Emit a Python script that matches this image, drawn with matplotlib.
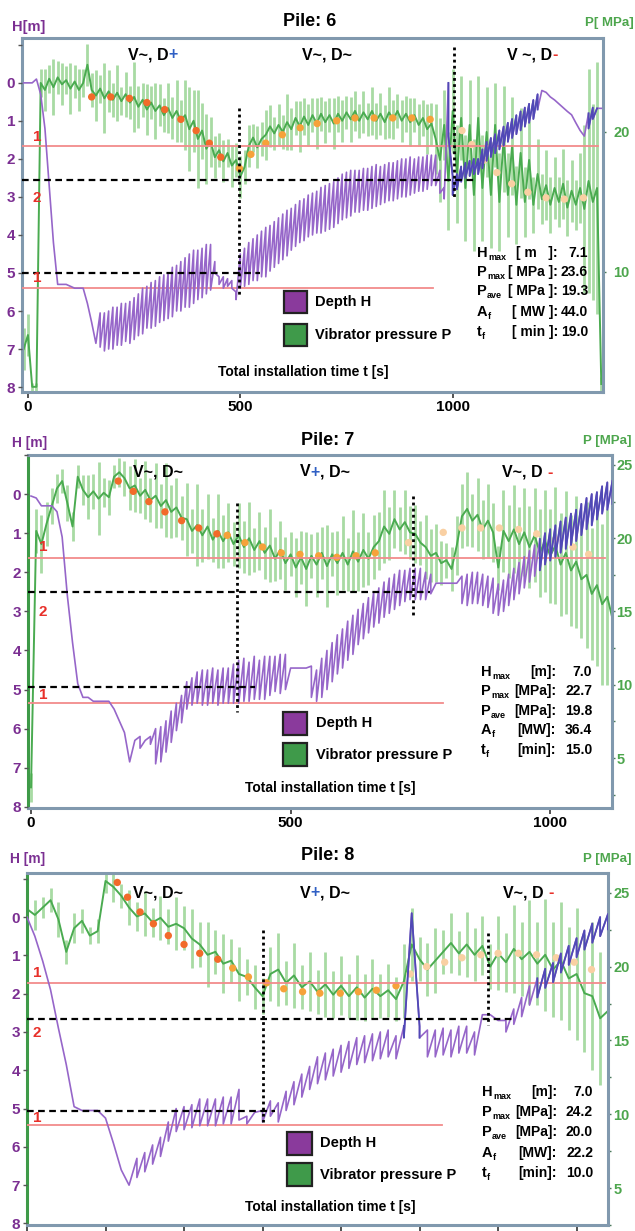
import numpy as np
import matplotlib
matplotlib.use("Agg")
import matplotlib.pyplot as plt
from matplotlib.patches import Rectangle

plt.rcParams['font.family'] = ['Liberation Sans', 'DejaVu Sans']
plt.rcParams['font.weight'] = 'bold'

# ============================ DATA ============================
# ---- Pile 6 (time grid 10 s) ----
t6 = np.arange(-10, 1351, 10)
p6 = [4.5, 5.5, 1.8, 1.8, 23.5, 23.0, 23.8, 23.2, 23.9, 23.4,
      23.7, 23.1, 23.6, 23.0, 23.5, 24.8, 23.0, 22.6, 23.1, 22.4,
      22.9, 22.3, 22.8, 22.2, 22.7, 22.1, 22.5, 21.8, 22.3, 21.6,
      22.1, 21.5, 21.9, 21.2, 21.7, 21.0, 21.5, 20.8, 21.2, 20.2,
      20.8, 19.5, 20.1, 18.8, 19.3, 18.2, 18.7, 17.9, 18.5, 17.6,
      18.0, 16.8, 17.5, 19.0, 19.6, 18.9, 19.5, 19.8, 20.4, 19.9,
      20.5, 20.0, 20.7, 20.2, 21.0, 20.4, 21.1, 20.5, 21.2, 20.6,
      21.3, 20.7, 21.2, 20.6, 21.3, 20.8, 21.4, 20.9, 21.5, 20.8,
      21.4, 20.9, 21.5, 20.8, 21.3, 20.7, 21.4, 20.9, 21.5, 20.8,
      21.3, 20.7, 21.2, 20.5, 21.0, 20.2, 20.6, 19.5, 18.0, 20.5,
      16.5, 21.5, 17.0, 21.0, 16.0, 20.5, 15.5, 21.0, 16.0, 20.0,
      15.5, 20.5, 15.0, 19.5, 15.5, 19.0, 14.8, 18.5, 15.0, 18.0,
      14.8, 17.0, 15.2, 16.2, 14.8, 16.0, 15.0, 16.3, 14.6, 15.8,
      14.8, 16.0, 14.5, 16.5, 15.0, 16.0, 2.0]
sp6 = [1.5, 1.5, 0.3, 0.3, 1.0, 1.5, 1.0, 2.0, 1.2, 1.5,
       1.0, 1.8, 1.2, 1.5, 1.0, 1.5, 1.2, 1.8, 1.0, 2.5,
       1.5, 1.2, 2.0, 1.0, 1.6, 1.2, 2.5, 1.5, 1.2, 1.8,
       1.2, 2.0, 1.5, 1.2, 1.8, 1.5, 2.2, 1.5, 2.5, 3.0,
       2.2, 3.5, 2.0, 2.5, 1.8, 1.5, 1.2, 1.5, 1.0, 1.5,
       1.2, 1.5, 1.2, 1.5, 1.0, 1.5, 1.2, 1.8, 1.5, 1.2,
       1.5, 1.2, 2.0, 1.5, 1.2, 1.8, 1.3, 1.5, 1.2, 1.8,
       1.2, 1.5, 1.2, 1.8, 1.3, 1.5, 1.2, 1.6, 1.4, 1.2,
       1.5, 1.2, 1.7, 1.3, 1.5, 1.2, 1.8, 1.4, 1.2, 1.5,
       1.3, 1.7, 1.2, 1.5, 1.3, 1.8, 1.5, 2.5, 3.0, 2.5,
       3.5, 3.0, 3.5, 3.0, 3.8, 3.2, 4.0, 3.0, 3.8, 3.2,
       3.8, 3.0, 3.5, 3.8, 3.0, 3.5, 2.8, 3.2, 2.5, 2.8,
       2.0, 2.5, 1.8, 2.5, 2.0, 2.2, 1.8, 2.5, 2.0, 2.2,
       1.8, 2.5, 6.0, 8.0, 7.0, 9.0, 0.5]
h6 = [0.0, 0.0, 0.0, -0.1, 0.3, 1.2, 2.7, 4.2, 5.3, 5.3,
      5.3, 5.35, 5.4, 5.4, 5.4, 5.8, 6.3, 6.85, 6.5, 6.55,
      6.5, 6.45, 6.4, 6.35, 6.3, 6.3, 6.2, 6.1, 6.0, 5.9,
      5.85, 5.8, 5.7, 5.65, 5.6, 5.5, 5.4, 5.35, 5.25, 5.2,
      5.1, 5.05, 5.0, 4.9, 4.85, 4.85, 5.2, 5.25, 5.25, 5.3,
      5.6, 4.95, 4.85, 4.75, 4.65, 4.6, 4.5, 4.45, 4.35, 4.25,
      4.15, 4.05, 3.95, 3.85, 3.75, 3.65, 3.6, 3.5, 3.45, 3.4,
      3.35, 3.3, 3.25, 3.2, 3.1, 3.0, 2.95, 2.9, 2.85, 2.85,
      2.8, 2.8, 2.75, 2.7, 2.7, 2.65, 2.6, 2.6, 2.55, 2.5,
      2.5, 2.45, 2.45, 2.4, 2.4, 2.35, 2.3, 2.3, 2.6, 2.9,
      0.7, 2.7, 2.6, 2.4, 2.3, 2.25, 2.2, 2.2, 2.0, 1.8,
      1.7, 1.6, 1.5, 1.4, 1.3, 1.2, 1.1, 1.0, 0.9, 0.8,
      0.7, 0.5, 0.2, 0.25, 0.37, 0.45, 0.55, 0.65, 0.75, 0.84,
      1.05, 1.25, 1.4, 1.0, 0.8, 0.67, 0.67]
dh6 = [0, 0, 0, 0, 0, 0, 0, 0, 0, 0,
       0, 0, 0, 0, 0, 0, 0, 0, 0.9, 1.0,
       1.0, 1.1, 1.0, 1.1, 1.0, 1.1, 1.1, 1.1, 1.2, 1.1,
       1.2, 1.2, 1.2, 1.2, 1.2, 1.3, 1.2, 1.3, 1.3, 1.4,
       1.4, 1.3, 1.3, 1.3, 1.2, 0.3, 0.2, 0.3, 0.2, 0.2,
       0.2, 0.9, 1.0, 1.1, 1.1, 1.2, 1.2, 1.3, 1.2, 1.2,
       1.2, 1.2, 1.2, 1.1, 1.1, 1.1, 1.1, 1.1, 1.1, 1.1,
       1.2, 1.2, 1.2, 1.2, 1.2, 1.2, 1.2, 1.2, 1.1, 1.1,
       1.1, 1.1, 1.1, 1.1, 1.0, 1.0, 1.0, 1.0, 1.0, 1.0,
       1.0, 1.0, 0.9, 0.9, 0.9, 0.9, 0.8, 0.8, 0.6, 0.3,
       1.4, 0.5, 0.4, 0.4, 0.4, 0.4, 0.4, 0.4, 0.5, 0.5,
       0.5, 0.5, 0.5, 0.5, 0.5, 0.5, 0.5, 0.5, 0.5, 0.5,
       0.5, 0.4, 0, 0, 0, 0, 0, 0, 0, 0,
       0, 0, 0, 0.4, 0.3, 0, 0]
t6d = [150, 195, 239, 280, 322, 360, 396, 427, 454, 498, 525, 560, 599, 641, 681,
       727, 770, 815, 859, 904, 947, 1022, 1045, 1074, 1104, 1139, 1177, 1220, 1263, 1308]
p6d = [22.5, 22.5, 22.4, 22.1, 21.6, 20.9, 20.1, 19.2, 18.2, 17.4, 18.4, 19.2, 19.8, 20.3, 20.6,
       20.8, 21.0, 21.0, 21.0, 21.0, 20.9, 20.1, 19.1, 18.0, 17.1, 16.3, 15.7, 15.3, 15.2, 15.3]
phase6 = [0] * 9 + [1] * 12 + [2] * 9
stats6 = ["7.1", "23.6", "19.3", "44.0", "19.0"]
units6 = ["[ m   ]:", "[ MPa ]:", "[ MPa ]:", "[ MW ]:", "[ min ]:"]
red6, red6_end = [1.65, 5.4], [1342, 954]
dash6, dash6_end = [2.55, 5.0], [1053, 547]
vt6, vspan6 = [497, 1004], [(0.66, 5.6), (-0.95, 3.0)]

# ---- Pile 7 ----
t7 = np.arange(0, 1121, 10)
p7 = [3.0, 20.5, 19.6, 21.0, 22.2, 23.4, 23.9, 22.4, 20.8, 24.2,
      23.3, 22.8, 23.2, 22.7, 23.1, 22.8, 24.2, 24.5, 24.1, 23.4,
      23.6, 22.9, 23.3, 22.6, 22.9, 22.2, 22.6, 21.8, 22.1, 21.4,
      21.3, 20.5, 20.9, 20.2, 20.8, 19.9, 20.5, 19.8, 20.4, 19.6,
      20.2, 19.4, 20.0, 19.2, 19.8, 19.0, 19.5, 18.6, 19.2, 18.3,
      18.9, 18.0, 18.7, 17.9, 18.8, 18.2, 19.0, 18.1, 18.9, 18.3,
      19.0, 18.2, 19.1, 18.4, 19.2, 18.6, 19.4, 19.8, 20.8, 20.3,
      21.3, 20.6, 21.1, 20.4, 20.3, 19.7, 19.4, 18.8, 19.0, 18.3,
      18.5, 17.9, 19.5, 21.5, 22.0, 21.2, 21.6, 20.6, 21.2, 20.4,
      18.0, 20.5, 19.8, 20.6, 19.6, 20.4, 19.4, 20.2, 19.0, 19.8,
      18.8, 19.5, 18.2, 19.0, 17.8, 18.4, 17.2, 17.5, 16.2, 16.8,
      15.5, 16.0, 14.5]
sp7 = [1.0, 1.5, 2.0, 1.5, 1.2, 1.0, 0.8, 1.2, 1.0, 0.8,
       1.0, 1.5, 1.2, 2.5, 1.0, 1.2, 0.8, 1.0, 1.2, 1.5,
       1.8, 1.2, 2.0, 1.5, 2.2, 1.5, 2.5, 1.8, 2.0, 1.5,
       2.5, 1.5, 2.8, 1.8, 2.2, 1.5, 2.5, 1.8, 2.0, 1.5,
       2.2, 1.8, 2.5, 1.5, 2.0, 1.8, 2.5, 1.5, 2.0, 1.8,
       1.5, 2.0, 1.8, 2.5, 1.5, 2.2, 1.8, 2.8, 1.5, 2.2,
       2.5, 1.8, 2.8, 2.0, 2.5, 1.8, 2.2, 2.0, 2.5, 1.8,
       2.0, 1.5, 2.2, 1.8, 2.0, 1.5, 2.2, 1.8, 2.0, 1.5,
       1.2, 1.5, 2.0, 2.2, 2.5, 1.8, 2.5, 2.0, 2.5, 2.0,
       1.5, 2.8, 2.5, 3.0, 2.5, 3.0, 2.8, 3.2, 3.0, 3.5,
       3.2, 4.0, 3.5, 4.2, 3.8, 4.5, 4.0, 5.0, 4.5, 5.5,
       5.5, 6.0, 5.0]
h7 = [0.05, 0.1, 0.3, 0.3, 0.3, 0.45, 1.1, 2.6, 3.8, 4.85,
      5.2, 5.2, 5.3, 5.3, 5.3, 5.3, 5.5, 5.8, 6.1, 6.85,
      6.3, 6.35, 6.3, 6.3, 6.45, 6.4, 6.2, 5.95, 5.7, 5.5,
      5.15, 5.05, 4.95, 4.95, 4.95, 4.9, 4.95, 4.9, 4.9, 4.85,
      4.8, 4.75, 4.8, 4.7, 4.75, 4.7, 4.65, 4.6, 4.6, 4.55,
      4.45, 4.45, 4.45, 4.45, 4.8, 4.9, 4.7, 4.5, 4.3, 4.1,
      3.95, 3.75, 3.6, 3.4, 3.25, 3.1, 2.95, 2.85, 2.7, 2.6,
      2.5, 2.4, 2.35, 2.3, 2.3, 2.3, 2.35, 2.3, 2.28, 2.28,
      2.28, 2.28, 2.28, 2.45, 2.45, 2.4, 2.4, 2.45, 2.5, 2.6,
      2.7, 2.6, 2.45, 2.3, 2.15, 2.0, 1.85, 1.7, 1.55, 1.4,
      1.3, 1.2, 1.1, 1.0, 0.9, 0.8, 0.65, 0.5, 0.4, 0.3,
      0.15, 0.05, -0.05]
dh7 = [0, 0, 0, 0, 0, 0, 0, 0, 0, 0,
       0, 0, 0, 0, 0, 0, 0, 0, 0, 0,
       0, 0.3, 0, 0.2, 0.9, 0.9, 0.8, 0.8, 0.7, 0.7,
       0.7, 0.7, 0.8, 0.9, 0.9, 0.9, 0.9, 0.9, 0.9, 1.0,
       1.1, 1.1, 1.0, 1.1, 1.0, 1.1, 1.0, 0.9, 1.0, 0.9,
       0, 0, 0, 0, 0.8, 0.8, 1.0, 1.0, 1.0, 1.0,
       1.0, 1.0, 1.0, 0.9, 0.9, 0.9, 0.9, 0.9, 0.9, 0.9,
       0.9, 0.9, 0.8, 0.8, 0.8, 0.8, 0.7, 0.5, 0, 0,
       0, 0, 0, 0.7, 0.8, 0.8, 0.8, 0.8, 0.8, 0.9,
       0.8, 0.8, 0.8, 0.8, 0.8, 0.8, 0.8, 0.8, 0.8, 0.8,
       0.8, 0.8, 0.8, 0.8, 0.8, 0.8, 0.8, 0.8, 0.8, 0.7,
       0.7, 0.7, 0.6]
t7d = [168, 197, 227, 258, 290, 323, 358, 378, 412, 446, 482, 518, 554, 589, 626, 663,
       727, 794, 830, 866, 902, 939, 974, 1010, 1044, 1074]
p7d = [23.9, 23.2, 22.5, 21.8, 21.2, 20.7, 20.3, 20.2, 19.7, 19.4, 19.0, 18.9, 18.8, 18.7, 18.8, 19.0,
       19.7, 20.4, 20.7, 20.7, 20.7, 20.6, 20.3, 19.9, 19.4, 18.9]
phase7 = [0] * 7 + [1] * 9 + [2] * 10
stats7 = ["7.0", "22.7", "19.8", "36.4", "15.0"]
units7 = ["[m]:", "[MPa]:", "[MPa]:", "[MW]:", "[min]:"]
red7, red7_end = [1.64, 5.35], [1106, 794]
dash7, dash7_end = [2.5, 4.94], [769, 432]
vt7, vspan7 = [397, 736], [(0.23, 5.58), (0.05, 3.17)]

# ---- Pile 8 ----
t8 = np.arange(0, 741, 10)
p8 = [23.9, 23.5, 24.0, 24.5, 23.2, 21.0, 22.6, 23.1, 22.1, 22.4,
      25.8, 25.4, 24.8, 24.0, 23.4, 23.6, 23.0, 23.3, 22.7, 22.9,
      22.6, 21.9, 21.5, 20.8, 21.0, 20.2, 20.4, 19.5, 19.3, 18.6,
      18.0, 19.5, 19.8, 18.9, 19.4, 18.6, 19.0, 18.3, 18.8, 18.1,
      18.7, 18.0, 18.6, 17.9, 18.5, 18.0, 18.4, 17.8, 19.0, 21.5,
      20.5, 19.8, 20.4, 21.0, 21.6, 20.9, 21.5, 20.8, 21.4, 20.0,
      20.9, 20.3, 21.2, 20.5, 21.0, 20.2, 20.8, 19.8, 20.4, 19.2,
      19.5, 18.2, 18.0, 16.5, 17.0]
sp8 = [0.8, 1.0, 0.7, 0.8, 1.2, 0.8, 1.0, 0.8, 0.6, 0.8,
       0.8, 1.0, 0.8, 1.2, 1.0, 1.5, 1.0, 1.5, 1.2, 1.8,
       1.5, 2.0, 1.5, 2.2, 1.5, 2.0, 1.5, 1.8, 1.2, 1.5,
       1.2, 1.8, 2.5, 1.5, 2.2, 1.5, 2.0, 1.5, 2.2, 1.6,
       2.0, 1.5, 2.2, 1.6, 2.0, 1.5, 1.8, 1.5, 2.5, 2.5,
       1.5, 1.8, 2.2, 1.5, 2.0, 1.5, 2.2, 1.8, 2.0, 1.5,
       2.5, 2.0, 3.0, 2.5, 3.5, 2.8, 3.8, 3.2, 4.0, 3.5,
       4.5, 4.0, 5.0, 4.5, 4.0]
h8 = [0.0, 0.5, 1.15, 1.9, 2.9, 3.85, 4.95, 5.05, 5.05, 5.05,
      5.25, 5.9, 6.6, 7.0, 6.55, 6.4, 6.2, 6.0, 5.6, 5.3,
      5.25, 5.2, 5.1, 5.1, 5.1, 5.05, 5.05, 4.9, 5.3, 5.1,
      5.2, 5.0, 5.1, 4.8, 4.6, 4.4, 4.2, 4.0, 3.9, 3.8,
      3.7, 3.6, 3.5, 3.45, 3.4, 3.35, 3.3, 3.4, 3.0, -0.1,
      3.0, 3.3, 3.3, 3.25, 3.3, 3.2, 3.2, 3.3, 2.55, 2.55,
      2.7, 2.85, 2.6, 2.35, 2.05, 1.85, 1.6, 1.45, 1.2, 1.0,
      0.8, 0.6, 0.42, 0.25, 0.12]
dh8 = [0, 0, 0, 0, 0, 0, 0, 0, 0, 0,
       0, 0, 0, 0, 0.5, 0.5, 0.5, 0.5, 0.5, 0.6,
       0.6, 0.6, 0.7, 0.7, 0.7, 0.7, 0.7, 0.8, 0.2, 0,
       0.3, 0.4, 0.5, 0.5, 0.6, 0.6, 0.6, 0.7, 0.7, 0.7,
       0.7, 0.7, 0.7, 0.7, 0.7, 0.7, 0.7, 0.6, 0.3, 0,
       0.3, 0.7, 0.7, 0.7, 0.7, 0.7, 0.7, 0.6, 0, 0,
       0, 0.3, 0.4, 0.5, 0.5, 0.5, 0.5, 0.5, 0.5, 0.5,
       0.5, 0.5, 0.5, 0.5, 0.4]
t8d = [115, 128, 144, 161, 180, 200, 220, 243, 262, 282, 305, 327, 351, 373, 399, 422, 445, 470,
       488, 509, 532, 554, 578, 600, 626, 649, 674, 697, 719]
p8d = [25.7, 24.7, 23.7, 22.9, 22.1, 21.5, 20.9, 20.5, 19.9, 19.3, 18.9, 18.5, 18.3, 18.2, 18.2, 18.3,
       18.4, 18.7, 19.5, 20.0, 20.3, 20.6, 20.8, 20.9, 20.9, 20.8, 20.6, 20.3, 19.8]
phase8 = [0] * 8 + [1] * 10 + [2] * 11
stats8 = ["7.0", "24.2", "20.0", "22.2", "10.0"]
units8 = ["[m]:", "[MPa]:", "[MPa]:", "[MW]:", "[min]:"]
red8, red8_end = [1.72, 5.43], [736, 529]
dash8, dash8_end = [2.66, 5.06], [618, 316]
vt8, vspan8 = [301, 587], [(0.34, 5.35), (0.42, 2.82)]

# ============================ STYLE ============================
FW, FH = 635, 1231
PURPLE = '#9666c9'
BLUE = '#5049b6'
LGREEN = '#a8dba3'
DGREEN = '#4aab50'
RED = '#f28b8b'
RED_TXT = '#e8302a'
BLUE_TXT = '#2f5fc4'
PURPLE_TXT = '#7b2f92'
GREEN_TXT = '#4da64d'
SPINE = '#8199ae'
DOT_COLS = ['#f26b2a', '#f6a23a', '#f9d0a3']

fig = plt.figure(figsize=(FW / 100, FH / 100), dpi=100)


def ftext(x, y, s, **kw):
    kw.setdefault('va', 'center')
    return fig.text(x / FW, 1 - y / FH, s, **kw)


def build(box, xlim, hlim, plim, pticks, pminor, xticks, xlabels, left_green, ppad):
    l, tp, r, b = box
    axp = fig.add_axes([l / FW, 1 - b / FH, (r - l) / FW, (b - tp) / FH])
    axh = axp.twinx()
    axp.set_xlim(*xlim)
    axp.set_ylim(*plim)
    axh.set_ylim(*hlim)
    axp.yaxis.tick_right()
    axh.yaxis.tick_left()
    axh.set_yticks(np.arange(-1, 9))
    axh.set_yticklabels([''] + [str(i) for i in range(9)])
    axh.tick_params(axis='y', labelsize=11, labelcolor=PURPLE_TXT, color='#555555',
                    length=3, width=1, pad=2)
    axp.set_yticks(pticks)
    axp.set_yticks(pminor, minor=True)
    axp.tick_params(axis='y', which='both', labelsize=10.5, labelcolor=GREEN_TXT,
                    color='#4a7a5a', length=2.5, width=1, pad=ppad)
    axp.set_xticks(xticks)
    axp.set_xticklabels(xlabels)
    axp.tick_params(axis='x', labelsize=11, length=4, width=1.2, color='#333333', pad=2)
    for s in axp.spines.values():
        s.set_color(SPINE)
        s.set_linewidth(2.2)
    if left_green:
        axp.spines['left'].set_color('#3e9a48')
    for s in axh.spines.values():
        s.set_visible(False)
    return axp, axh


def draw(axp, axh, t, p, sp, h, dh, td, pd, phase, blue):
    t = np.asarray(t, float)
    p = np.asarray(p, float)
    sp = np.asarray(sp, float)
    axp.vlines(t, p - sp, p + sp, color=LGREEN, lw=2.0, zorder=1)
    axp.plot(t, p, color=DGREEN, lw=1.4, zorder=2)
    axp.scatter(td, pd, s=28, c=[DOT_COLS[k] for k in phase], zorder=5, linewidths=0)
    h = np.asarray(h, float)
    dh = np.asarray(dh, float)
    x = np.repeat(t, 2)
    y = np.column_stack([h - dh / 2, h + dh / 2]).ravel()
    axh.plot(x, y, color=PURPLE, lw=1.2, zorder=3)
    for a, b_ in blue:
        yb = np.where((x >= a) & (x <= b_), y, np.nan)
        axh.plot(x, yb, color=BLUE, lw=1.3, zorder=4)


def refs(axh, x0, red_lv, red_end, dash_lv, dash_end, vt, vspan):
    for lv, e in zip(red_lv, red_end):
        axh.plot([x0, e], [lv, lv], color=RED, lw=1.3, zorder=2)
    for lv, e in zip(dash_lv, dash_end):
        axh.plot([x0, e], [lv, lv], color='k', lw=1.6, ls=(0, (3, 2)), zorder=6)
    for x, (a, b) in zip(vt, vspan):
        axh.plot([x, x], [a, b], color='k', lw=2.0, ls=(0, (1, 1.2)), zorder=6)


def chain(axh, x, y, parts, size=11.5):
    prev = ftext(x, y, parts[0][0], color=parts[0][1], fontsize=size, ha='left')
    for s, c in parts[1:]:
        prev = axh.annotate(s, xy=(1, 0), xycoords=prev, va='bottom', ha='left',
                            color=c, fontsize=size)


def stats_block(axh, xs, xc, xv, ys, units, vals):
    syms = [('H', 'max'), ('P', 'max'), ('P', 'ave'), ('A', 'f'), ('t', 'f')]
    for (s, sub), y, u, v in zip(syms, ys, units, vals):
        base = ftext(xs, y, s, fontsize=10.5, ha='left')
        axh.annotate(sub, xy=(1, 0), xycoords=base, xytext=(0.3, -1.2),
                     textcoords='offset points', fontsize=6.5, va='bottom', ha='left')
        ftext(xc, y, u, fontsize=10, ha='right')
        ftext(xv, y, v, fontsize=10, ha='right')


def legend_block(xb, yb1, yb2, w, hh, xt):
    for yy, col, lab in [(yb1, '#8a3a9c', 'Depth H'), (yb2, '#3f9a4a', 'Vibrator pressure P')]:
        fig.add_artist(Rectangle((xb / FW, 1 - (yy + hh) / FH), w / FW, hh / FH,
                                 transform=fig.transFigure, facecolor=col,
                                 edgecolor='#222222', lw=1.6))
        ftext(xt, yy + hh / 2, lab, fontsize=10.5, ha='left')


# ============================ PILE 6 ============================
ax6p, ax6h = build((22, 38, 603, 392), (-14, 1354), (8.13, -1.18), (1.43, 26.71),
                   [10, 20], [], [0, 500, 1000], ['0', '500', '1000'], False, 5)
draw(ax6p, ax6h, t6, p6, sp6, h6, dh6, t6d, p6d, phase6, [(985, 1205), (1315, 1345)])
refs(ax6h, -14, red6, red6_end, dash6, dash6_end, vt6, vspan6)
ftext(310, 21, "Pile: 6", fontsize=13, ha='center')
ftext(12, 27, "H[m]", fontsize=10.5, color=PURPLE_TXT, ha='left')
ftext(585, 23, "P[ MPa]", fontsize=9.5, color=GREEN_TXT, ha='left')
chain(ax6h, 128, 55, [("V~, D", 'k'), ("+", BLUE_TXT)])
chain(ax6h, 302, 55, [("V~, D~", 'k')])
chain(ax6h, 507, 55, [("V ~, D", 'k'), ("-", RED_TXT)])
for (xx, yy, s) in [(37, 137, "1"), (37, 198, "2"), (37, 278, "1")]:
    ftext(xx, yy, s, fontsize=11, color=RED_TXT, ha='center')
legend_block(284, 291, 324, 23, 22, 315)
ftext(303, 372, "Total installation time t [s]", fontsize=10, ha='center')
stats_block(ax6h, 477, 558, 588, [253, 272, 291, 312, 332], units6, stats6)

# ============================ PILE 7 ============================
ax7p, ax7h = build((28, 455, 612, 808), (-5.8, 1119), (8.03, -1.0), (1.59, 25.68),
                   [5, 10, 15, 20, 25], [2.5, 7.5, 12.5, 17.5, 22.5],
                   [0, 500, 1000], ['0', '500', '1000'], True, 0.5)
draw(ax7p, ax7h, t7, p7, sp7, h7, dh7, t7d, p7d, phase7, [(975, 1125)])
refs(ax7h, -5.8, red7, red7_end, dash7, dash7_end, vt7, vspan7)
ftext(328, 440, "Pile: 7", fontsize=13, ha='center')
ftext(12, 443, "H [m]", fontsize=10, color=PURPLE_TXT, ha='left')
ftext(583, 441, "P [MPa]", fontsize=9.5, color=GREEN_TXT, ha='left')
chain(ax7h, 133, 472, [("V~, D~", 'k')])
chain(ax7h, 300, 472, [("V", 'k'), ("+", BLUE_TXT), (", D~", 'k')])
chain(ax7h, 502, 472, [("V~, D ", 'k'), ("-", RED_TXT)])
for (xx, yy, s) in [(43, 547, "1"), (43, 612, "2"), (43, 695, "1")]:
    ftext(xx, yy, s, fontsize=11, color=RED_TXT, ha='center')
legend_block(283, 712, 743, 24, 23, 316)
ftext(330, 788, "Total installation time t [s]", fontsize=10, ha='center')
stats_block(ax7h, 481, 556, 592, [672, 691, 711, 730, 750], units7, stats7)

# ============================ PILE 8 ============================
ax8p, ax8h = build((27, 873, 608, 1225), (0, 740), (8.04, -1.15), (2.79, 26.34),
                   [5, 10, 15, 20, 25], [2.5, 7.5, 12.5, 17.5, 22.5],
                   list(range(0, 800, 100)), [''] * 8, True, 1.5)
draw(ax8p, ax8h, t8, p8, sp8, h8, dh8, t8d, p8d, phase8, [(480, 500), (650, 745)])
refs(ax8h, 0, red8, red8_end, dash8, dash8_end, vt8, vspan8)
ftext(328, 856, "Pile: 8", fontsize=13, ha='center')
ftext(10, 859, "H [m]", fontsize=10, color=PURPLE_TXT, ha='left')
ftext(583, 859, "P [MPa]", fontsize=9.5, color=GREEN_TXT, ha='left')
chain(ax8h, 133, 893, [("V~, D~", 'k')])
chain(ax8h, 300, 893, [("V", 'k'), ("+", BLUE_TXT), (", D~", 'k')])
chain(ax8h, 503, 893, [("V~, D ", 'k'), ("-", RED_TXT)])
for (xx, yy, s) in [(37, 973, "1"), (37, 1033, "2"), (37, 1118, "1")]:
    ftext(xx, yy, s, fontsize=11, color=RED_TXT, ha='center')
legend_block(287, 1132, 1163, 25, 23, 320)
ftext(330, 1207, "Total installation time t [s]", fontsize=10, ha='center')
stats_block(ax8h, 482, 557, 593, [1092, 1112, 1132, 1153, 1173], units8, stats8)

fig.savefig("out.png", dpi=100)
